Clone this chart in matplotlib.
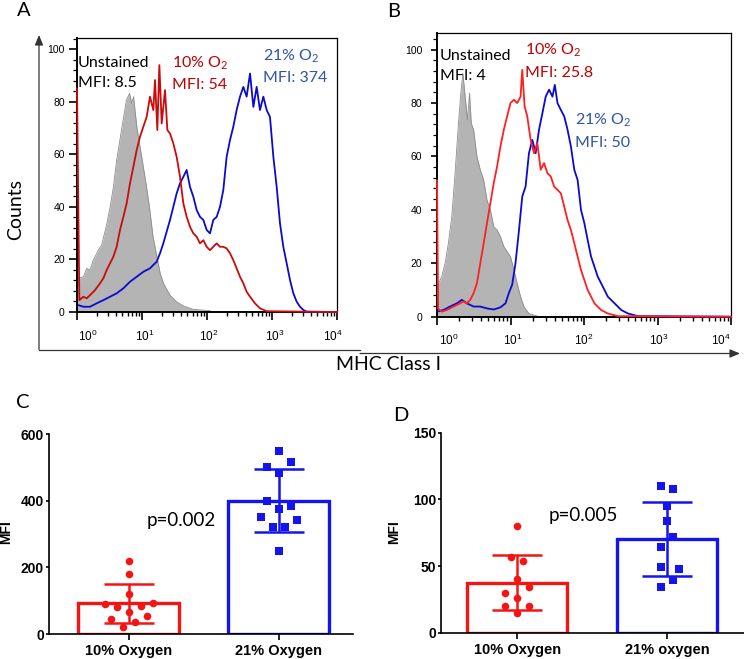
import numpy as np
import matplotlib
matplotlib.use('Agg')
import matplotlib.pyplot as plt
import matplotlib.transforms as mtransforms
from matplotlib.ticker import LogLocator, NullFormatter

plt.rcParams['font.family'] = ['Lato', 'DejaVu Sans']
plt.rcParams['mathtext.default'] = 'regular'

W, H = 744, 659

# ==================== data ====================
# panel A histograms: log10(MHC class I intensity) and counts
a_grey_lx = [0.00, 0.02, 0.10, 0.15, 0.20, 0.25, 0.33, 0.38, 0.46, 0.51, 0.56, 0.61, 0.66, 0.71, 0.76, 0.81,
             0.84, 0.87, 0.92, 0.97, 1.02, 1.07, 1.12, 1.17, 1.23, 1.28, 1.33, 1.43, 1.53, 1.64, 1.79, 2.05]
a_grey_ct = [13, 12.8, 13.4, 16.6, 15.9, 19.7, 23.6, 25.5, 33.7, 40, 47.6, 57.8, 65.4, 73, 80.6, 83.1,
             79.3, 81.9, 70.4, 62.8, 55.2, 47.6, 38.8, 28.6, 21, 14.7, 10.9, 6.4, 3.9, 2.3, 1, 0.5]

a_red_lx = [0.0, 0.036, 0.097, 0.149, 0.200, 0.277, 0.354, 0.405, 0.456, 0.508, 0.559, 0.610, 0.662, 0.713,
            0.764, 0.815, 0.867, 0.918, 0.969, 1.021, 1.072, 1.123, 1.174, 1.200, 1.236, 1.267, 1.303, 1.354,
            1.390, 1.431, 1.482, 1.533, 1.585, 1.636, 1.687, 1.738, 1.790, 1.841, 1.892, 1.944, 1.995, 2.046,
            2.097, 2.149, 2.200, 2.251, 2.302, 2.354, 2.405, 2.456, 2.508, 2.559, 2.610, 2.662, 2.738, 2.815,
            2.918, 4.0]
a_red_ct = [85, 4.5, 5.8, 5.2, 6.4, 8.3, 10.9, 12.8, 15.9, 18.5, 21, 24.8, 31.2, 36.2,
            41.3, 48.9, 55.2, 61.6, 66.6, 70.5, 74.2, 81.9, 76.8, 88.2, 69.2, 93.9, 71.7, 84.4,
            69.2, 67.9, 64.1, 59, 51.4, 41.3, 36.2, 32.4, 29.9, 28.6, 26.1, 27.3, 24.8, 23.5,
            24.8, 26.1, 24.8, 24.8, 24.2, 22.3, 19.7, 16.6, 13.4, 10.9, 7.7, 5.8, 3.3, 1.4,
            0.3, 0]

a_blue_lx = [0.021, 0.097, 0.200, 0.303, 0.405, 0.508, 0.610, 0.713, 0.815, 0.918, 1.021, 1.123, 1.174, 1.226,
             1.277, 1.328, 1.379, 1.431, 1.482, 1.533, 1.585, 1.636, 1.687, 1.738, 1.790, 1.841, 1.892, 1.944,
             1.995, 2.046, 2.097, 2.149, 2.200, 2.251, 2.302, 2.354, 2.405, 2.456, 2.508, 2.559, 2.610, 2.662,
             2.713, 2.764, 2.815, 2.867, 2.918, 2.969, 3.021, 3.072, 3.123, 3.174, 3.226, 3.277, 3.328, 3.380,
             3.431, 3.482, 3.533, 4.0]
a_blue_ct = [2.6, 2, 2, 3.3, 4.5, 5.8, 7.1, 9, 11.5, 13.4, 15.3, 16.6, 17.9, 19.1,
             22.3, 26.1, 30.5, 35, 40, 45.1, 48.9, 51.4, 54, 47.6, 43.8, 38.8, 36.2, 35,
             31.2, 29.9, 35, 36.2, 40, 46.4, 59, 65.4, 70.5, 76.8, 81.9, 85.6, 81.9, 90.7,
             78, 85.6, 76.8, 81.9, 76.8, 74.2, 59, 47.6, 33.7, 24.8, 18.5, 12.2, 7.1, 3.9,
             2, 0.8, 0.1, 0]

# panel B histograms
b_grey_lx = [0.005, 0.064, 0.110, 0.155, 0.201, 0.246, 0.292, 0.324, 0.352, 0.383, 0.415, 0.443, 0.466, 0.498,
             0.543, 0.589, 0.635, 0.680, 0.726, 0.772, 0.817, 0.863, 0.909, 0.954, 1.000, 1.046, 1.091, 1.137,
             1.183, 1.251, 1.365]
b_grey_ct = [11.3, 15, 20, 27.5, 37.5, 53.7, 72.4, 83.7, 91.2, 82.4, 73.7, 83.7, 72.4, 70,
             60, 55, 51.2, 43.7, 40, 33.7, 32.5, 30, 26.3, 24.4, 22.5, 17.5, 12.5, 7.5,
             3.7, 1.2, 0.2]

b_red_lx = [0.0, 0.015, 0.064, 0.132, 0.224, 0.315, 0.361, 0.406, 0.452, 0.498, 0.543, 0.589, 0.635, 0.680,
            0.726, 0.772, 0.817, 0.863, 0.909, 0.954, 1.000, 1.046, 1.091, 1.137, 1.160, 1.192, 1.228, 1.274,
            1.320, 1.365, 1.411, 1.457, 1.502, 1.548, 1.594, 1.639, 1.685, 1.731, 1.776, 1.822, 1.868, 1.913,
            1.959, 2.005, 2.050, 2.096, 2.142, 2.233, 2.324, 2.461, 4.0]
b_red_ct = [51, 3, 1.9, 2.5, 3.8, 5, 5.7, 5, 6.3, 8.8, 12.5, 20, 27.5, 35,
            42.5, 50, 56.2, 63.7, 70, 75, 80, 81.2, 80, 82.4, 92.4, 78.7, 75, 66.2,
            61.2, 65, 55, 57.5, 53.7, 52.5, 48.7, 47.5, 46.2, 41.2, 36.2, 32.5, 27.5, 22.5,
            17.5, 13.7, 10, 7.5, 5, 2.5, 1.2, 0.2, 0]

b_blue_lx = [0.005, 0.087, 0.178, 0.269, 0.338, 0.406, 0.498, 0.589, 0.680, 0.772, 0.863, 0.932, 0.977, 1.023,
             1.068, 1.114, 1.160, 1.205, 1.251, 1.297, 1.342, 1.388, 1.434, 1.479, 1.525, 1.571, 1.603, 1.639,
             1.685, 1.731, 1.776, 1.822, 1.868, 1.913, 1.959, 2.005, 2.050, 2.096, 2.142, 2.187, 2.233, 2.279,
             2.324, 2.416, 2.507, 2.598, 2.735, 4.0]
b_blue_ct = [1.9, 2.5, 3.8, 5, 6.3, 5, 3.8, 3.8, 3.1, 2.7, 3.5, 5, 8.8, 12,
             20, 32, 45, 48.7, 61.2, 66.2, 61.2, 70, 76.2, 82.4, 85, 82.4, 86.8, 80,
             77.4, 75, 70, 63.7, 55, 51.2, 40, 35, 28.7, 22.5, 18.7, 15, 12.5, 10,
             7.5, 5, 2.5, 1.2, 0.2, 0]

hist_xticks = [1, 10, 100, 1000, 10000]

# panel C / D: MFI per sample
c_groups = ['10% Oxygen', '21% Oxygen']
c_mean = [92, 400]
c_sd = [58, 94]
c_red_pts = [220, 180, 119, 89, 80, 84, 94, 65, 46, 54, 37, 20]
c_red_dx = [0, 0, 0, -0.16, -0.08, 0.08, 0.16, 0, -0.12, 0.12, 0.04, -0.04]
c_blue_pts = [550, 515, 501, 484, 399, 384, 375, 351, 342, 320, 320, 250]
c_blue_dx = [0, 0.08, -0.08, 0, -0.08, 0.08, 0, -0.12, 0.12, -0.04, 0.04, 0]

d_groups = ['10% Oxygen', '21% oxygen']
d_mean = [37.6, 70.5]
d_sd = [20.5, 27.6]
d_red_pts = [80, 57, 54, 40, 34.5, 30, 26, 20, 20, 14.5]
d_red_dx = [0, -0.04, 0.04, 0, 0.08, -0.08, 0, -0.08, 0.08, 0]
d_blue_pts = [110, 108, 95, 83.5, 71.5, 64.5, 49.5, 47.5, 39.5, 34.5]
d_blue_dx = [-0.04, 0.04, 0, 0, 0.04, -0.04, -0.04, 0.08, 0.04, -0.04]


# ==================== helpers ====================
def box(l, t, r, b):
    return [l / W, 1 - b / H, (r - l) / W, (b - t) / H]


def nudge(label, dx):
    label.set_transform(label.get_transform() + mtransforms.Affine2D().translate(dx, 0))


fig = plt.figure(figsize=(W / 100, H / 100), dpi=100)
# overlay in pixel coords for labels / frame, kept above the panels
ov = fig.add_axes([0, 0, 1, 1])
ov.set_xlim(0, W)
ov.set_ylim(H, 0)
ov.axis('off')
ov.set_zorder(10)


def hist_panel(rect, ytop, grey, red, blue, red_c, ytick_len, ytick_pad, xnudges):
    ax = fig.add_axes(rect)
    ax.set_xscale('log')
    gx = 10 ** np.array(grey[0])
    ax.fill_between(gx, 0, grey[1], color='#b4b4b4', lw=0)
    ax.plot(gx, grey[1], color='#8c8c8c', lw=0.6)
    ax.plot(10 ** np.array(blue[0]), blue[1], color='#0a0ad0', lw=1.3, zorder=3, clip_on=False)
    ax.plot(10 ** np.array(red[0]), red[1], color=red_c, lw=1.3, zorder=3, clip_on=False)
    ax.set_xlim(1, 1e4)
    ax.set_ylim(0, ytop)
    ax.set_yticks(range(0, 101, 20))
    ax.set_yticks([v for v in range(0, 105, 4) if v % 20], minor=True)
    ax.set_xticks(hist_xticks)
    ax.set_xticklabels(['10$^{%d}$' % i for i in range(5)])
    ax.xaxis.set_minor_locator(LogLocator(base=10, subs=range(2, 10)))
    ax.xaxis.set_minor_formatter(NullFormatter())
    ax.tick_params(axis='x', which='major', direction='out', length=5.8, width=1.2, pad=6, labelsize=8.5)
    ax.tick_params(axis='x', which='minor', direction='out', length=3, width=1.0)
    ax.tick_params(axis='y', which='major', direction='out', length=ytick_len, width=1.2, pad=ytick_pad,
                   labelsize=7.5)
    ax.tick_params(axis='y', which='minor', direction='out', length=2.8, width=0.9)
    for lab in ax.get_xticklabels() + ax.get_yticklabels():
        lab.set_fontfamily('Liberation Sans')
    for lab, dx in zip(ax.get_xticklabels(), xnudges):
        nudge(lab, dx)
    for side in ['left', 'bottom']:
        ax.spines[side].set_linewidth(1.4)
    for side in ['top', 'right']:
        ax.spines[side].set_linewidth(0.9)
    return ax


hist_panel(box(77, 38, 337, 312), 104.2, (a_grey_lx, a_grey_ct), (a_red_lx, a_red_ct),
           (a_blue_lx, a_blue_ct), '#cc0a0a', 5.8, 3, [11, 3, 2, 3, -4])
hist_panel(box(437, 33.3, 731, 316.7), 106.1, (b_grey_lx, b_grey_ct), (b_red_lx, b_red_ct),
           (b_blue_lx, b_blue_ct), '#ff2020', 4.5, 6, [12, 2, 0, 1, -10])

# outer frame of the flow plots
arrow_kw = dict(arrowstyle='-|>,head_length=0.6,head_width=0.25', color='#333333', lw=0.9,
                shrinkA=0, shrinkB=0)
ov.annotate('', xy=(39, 35), xytext=(39, 349.5), arrowprops=arrow_kw)
ov.plot([39, 360], [349.5, 349.5], color='#333333', lw=0.9)
ov.annotate('', xy=(740, 353.5), xytext=(360, 353.5), arrowprops=arrow_kw)

# histogram annotations
txt_red = '#c00000'
txt_blue = '#2f55a8'
fs_ann = 11.5
ov.text(78, 66.7, 'Unstained', fontsize=fs_ann, color='black')
ov.text(78, 87.3, 'MFI: 8.5', fontsize=fs_ann, color='black')
ov.text(172, 68, '10% O$_2$', fontsize=fs_ann, color=txt_red)
ov.text(172, 89, 'MFI: 54', fontsize=fs_ann, color=txt_red)
ov.text(263, 61, '21% O$_2$', fontsize=fs_ann, color=txt_blue)
ov.text(263, 82.3, 'MFI: 374', fontsize=fs_ann, color=txt_blue)

ov.text(440, 60, 'Unstained', fontsize=fs_ann, color='black')
ov.text(440, 80, 'MFI: 4', fontsize=fs_ann, color='black')
ov.text(525, 55, '10% O$_2$', fontsize=fs_ann, color=txt_red)
ov.text(525, 76.7, 'MFI: 25.8', fontsize=fs_ann, color=txt_red)
ov.text(575, 125, '21% O$_2$', fontsize=fs_ann, color=txt_blue)
ov.text(575, 146.7, 'MFI: 50', fontsize=fs_ann, color=txt_blue)

ov.text(16, 210, 'Counts', fontsize=14, rotation=90, ha='center', va='center')
ov.text(389, 364, 'MHC Class I', fontsize=14, ha='center', va='center')

# panel letters
for letter, x, y in [('A', 17, 16), ('B', 387, 17), ('C', 16, 408), ('D', 393, 421)]:
    ov.text(x, y, letter, fontsize=14.5, ha='left', va='baseline')


# ==================== bar panels ====================
RED = '#f51414'
BLUE = '#1414f0'


def bar_panel(rect, xlim, ymax, ystep, groups, mean, sd, red_pts, red_dx, blue_pts, blue_dx):
    ax = fig.add_axes(rect)
    cols = [RED, BLUE]
    ax.bar([0, 1], mean, width=0.67, facecolor='white', edgecolor=cols, linewidth=2.4, zorder=2)
    for i in range(2):
        ax.errorbar(i, mean[i], yerr=sd[i], fmt='none', ecolor=cols[i], elinewidth=1.8,
                    capsize=18, capthick=1.8, zorder=3)
    ax.scatter(np.array(red_dx), red_pts, marker='o', s=30, color=RED, zorder=4, linewidths=0)
    ax.scatter(1 + np.array(blue_dx), blue_pts, marker='s', s=34, color=BLUE, zorder=4, linewidths=0)
    ax.set_xlim(*xlim)
    ax.set_ylim(0, ymax)
    ax.set_yticks(np.arange(0, ymax + 1, ystep))
    ax.set_xticks([0, 1])
    ax.set_xticklabels(groups)
    ax.spines['top'].set_visible(False)
    ax.spines['right'].set_visible(False)
    for side in ['left', 'bottom']:
        ax.spines[side].set_linewidth(1.2)
    ax.tick_params(axis='y', direction='out', length=2.2, width=1.2, pad=1.5, labelsize=10)
    ax.tick_params(axis='x', direction='out', length=4.3, width=1.2, pad=3, labelsize=10.5)
    for lab in ax.get_xticklabels() + ax.get_yticklabels():
        lab.set_fontfamily('Liberation Sans')
        lab.set_fontweight('bold')
    return ax


bar_panel(box(49, 434, 353, 634), (-0.53, 1.495), 600, 200, c_groups, c_mean, c_sd,
          c_red_pts, c_red_dx, c_blue_pts, c_blue_dx)
bar_panel(box(441.3, 432.7, 744, 632.7), (-0.507, 1.513), 150, 50, d_groups, d_mean, d_sd,
          d_red_pts, d_red_dx, d_blue_pts, d_blue_dx)

for x in [6, 394]:
    ov.text(x, 532, 'MFI', fontsize=10, fontweight='bold', family='Liberation Sans',
            rotation=90, ha='center', va='center')
ov.text(147, 525.7, 'p=0.002', fontsize=13.5)
ov.text(548.7, 520.7, 'p=0.005', fontsize=13.5)

fig.savefig('out.png', dpi=100)
